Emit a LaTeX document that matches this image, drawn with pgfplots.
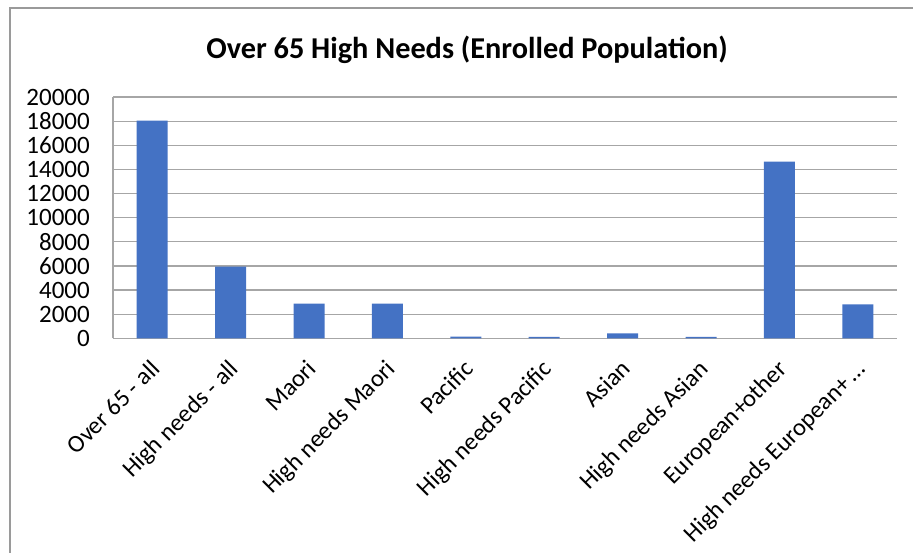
\documentclass[border=0pt]{standalone}
\usepackage{fontspec}
\setmainfont{Carlito}
\usepackage{pgfplots}
\pgfplotsset{compat=1.18}
\definecolor{barblue}{HTML}{4472C4}
\definecolor{gridgray}{HTML}{A6A6A6}
\definecolor{framegray}{HTML}{9A9A9A}
\begin{document}
\begin{tikzpicture}[x=1pt,y=1pt]
% page extent
\path[use as bounding box] (0,0) rectangle (913,552);
% chart frame (left and top edges)
\draw[framegray, line width=1.5pt] (10,-5) -- (10,544) -- (925,544);
% chart title
\node[font=\fontsize{30.3}{34}\selectfont\bfseries, text=black, anchor=base, inner sep=0pt] at (467,493)
  {Over 65 High Needs (Enrolled Population)};
\begin{axis}[
  at={(113pt,213.7pt)}, anchor=south west,
  scale only axis, width=784pt, height=241.3pt,
  xmin=-0.5, xmax=9.5, ymin=0, ymax=20000,
  ytick={0,2000,4000,6000,8000,10000,12000,14000,16000,18000,20000},
  xtick={0,...,9},
  xticklabels={Over 65 - all, High needs - all, Maori, High needs Maori,
    Pacific, High needs Pacific, Asian, High needs Asian,
    European+other, High needs European+\,…},
  ymajorgrids, grid style={gridgray, line width=1.2pt},
  axis x line*=bottom, axis y line*=left,
  axis line style={gridgray, line width=1.2pt, -},
  major tick length=0pt,
  /pgf/number format/assume math mode=true,
  /pgf/number format/1000 sep={},
  scaled y ticks=false,
  ticklabel style={text=black},
  yticklabel style={font=\fontsize{25}{29}\selectfont, inner sep=0pt, anchor=east, xshift=-23pt},
  xticklabel style={font=\fontsize{24.5}{28}\selectfont, inner sep=0pt, xshift=-3pt, yshift=-20pt, rotate=45, anchor=north east},
  clip=false,
]
\addplot[ybar, bar width=31pt, fill=barblue, draw=none] coordinates {
  (0,18050) (1,5950) (2,2880) (3,2880) (4,130)
  (5,120) (6,400) (7,110) (8,14650) (9,2820)
};
\end{axis}
\end{tikzpicture}
\end{document}
